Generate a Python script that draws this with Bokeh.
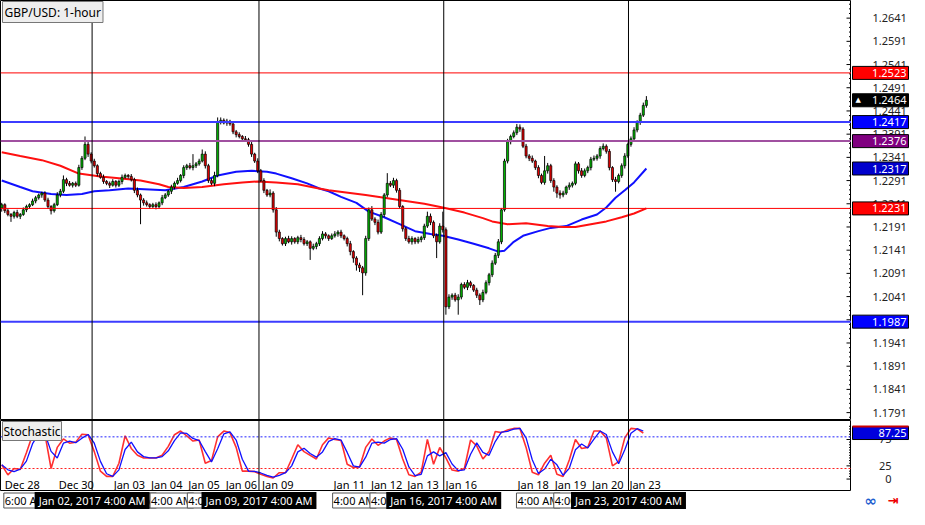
import numpy as np
from bokeh.plotting import figure
from bokeh.models import Range1d, Span, Label, ColumnDataSource
from bokeh.layouts import column, row
from bokeh.embed import file_html
from bokeh.resources import INLINE
from bokeh.core.properties import value

# ---------------- data (2-hour bars, bar index on x) ----------------
first_open = 1.2232
close = [
    1.2239, 1.2226, 1.2218, 1.2214, 1.2222, 1.2214, 1.2218, 1.2228, 1.2235, 1.2239,
    1.2247, 1.2254, 1.2260, 1.2264, 1.2249, 1.2235, 1.2226, 1.2239, 1.2260, 1.2268,
    1.2293, 1.2285, 1.2281, 1.2285, 1.2281, 1.2319, 1.2339, 1.2369, 1.2348, 1.2333,
    1.2323, 1.2306, 1.2298, 1.2289, 1.2285, 1.2281, 1.2289, 1.2281, 1.2289, 1.2298,
    1.2302, 1.2300, 1.2293, 1.2270, 1.2260, 1.2249, 1.2243, 1.2239, 1.2235, 1.2239,
    1.2235, 1.2243, 1.2254, 1.2260, 1.2268, 1.2277, 1.2285, 1.2291, 1.2302, 1.2319,
    1.2323, 1.2319, 1.2323, 1.2327, 1.2333, 1.2348, 1.2323, 1.2291, 1.2285, 1.2302,
    1.2417, 1.2421, 1.2415, 1.2419, 1.2413, 1.2396, 1.2390, 1.2386, 1.2381, 1.2379,
    1.2369, 1.2348, 1.2333, 1.2312, 1.2291, 1.2270, 1.2260, 1.2264, 1.2228, 1.2180,
    1.2166, 1.2155, 1.2166, 1.2159, 1.2166, 1.2159, 1.2168, 1.2164, 1.2155, 1.2159,
    1.2145, 1.2149, 1.2155, 1.2166, 1.2176, 1.2172, 1.2166, 1.2172, 1.2176, 1.2180,
    1.2172, 1.2166, 1.2155, 1.2138, 1.2124, 1.2109, 1.2103, 1.2092, 1.2166, 1.2228,
    1.2208, 1.2201, 1.2180, 1.2218, 1.2260, 1.2285, 1.2281, 1.2291, 1.2270, 1.2235,
    1.2187, 1.2166, 1.2159, 1.2166, 1.2159, 1.2164, 1.2168, 1.2193, 1.2214, 1.2201,
    1.2172, 1.2159, 1.2193, 1.2185, 1.2019, 1.2040, 1.2044, 1.2034, 1.2040, 1.2067,
    1.2061, 1.2071, 1.2065, 1.2055, 1.2044, 1.2034, 1.2050, 1.2071, 1.2088, 1.2113,
    1.2130, 1.2159, 1.2228, 1.2333, 1.2375, 1.2386, 1.2394, 1.2406, 1.2402, 1.2365,
    1.2344, 1.2339, 1.2333, 1.2319, 1.2302, 1.2287, 1.2312, 1.2323, 1.2291, 1.2277,
    1.2264, 1.2260, 1.2264, 1.2277, 1.2281, 1.2285, 1.2327, 1.2312, 1.2302, 1.2312,
    1.2319, 1.2337, 1.2339, 1.2344, 1.2360, 1.2365, 1.2354, 1.2319, 1.2293, 1.2289,
    1.2302, 1.2323, 1.2344, 1.2369, 1.2381, 1.2400, 1.2417, 1.2432, 1.2453, 1.2464,
]
upper_wick_pips = [
    4, 3, 5, 3, 4, 6, 3, 5, 4, 3,   5, 4, 3, 3, 4, 5, 3, 4, 6, 5,
    9, 4, 5, 3, 4, 6, 5, 17, 6, 4,  5, 3, 4, 6, 3, 4, 5, 3, 4, 6,
    4, 3, 5, 4, 6, 3, 4, 5, 3, 4,   5, 3, 6, 4, 3, 5, 4, 6, 3, 5,
    4, 6, 25, 4, 5, 10, 6, 4, 5, 8, 10, 6, 4, 5, 3, 6, 4, 5, 3, 6,
    4, 5, 3, 6, 4, 5, 3, 8, 4, 6,   5, 3, 4, 6, 5, 3, 4, 6, 5, 4,
    3, 6, 4, 5, 6, 4, 3, 5, 6, 4,   5, 3, 4, 6, 3, 4, 5, 4, 6, 5,
    8, 4, 6, 5, 4, 22, 5, 6, 4, 5,  3, 4, 6, 5, 3, 6, 4, 5, 10, 6,
    4, 5, 6, 31, 5, 6, 4, 5, 6, 4,  5, 6, 4, 3, 5, 4, 6, 5, 4, 6,
    5, 6, 4, 5, 6, 4, 5, 7, 6, 4,   5, 4, 6, 3, 5, 4, 32, 6, 4, 5,
    4, 6, 5, 3, 6, 4, 5, 4, 6, 5,   4, 5, 6, 4, 5, 6, 4, 5, 3, 6,
    4, 5, 6, 4, 5, 6, 4, 5, 6, 9,
]
lower_wick_pips = [
    8, 5, 4, 12, 5, 4, 6, 3, 5, 4,  3, 5, 4, 6, 4, 5, 8, 4, 3, 5,
    4, 6, 3, 5, 4, 3, 5, 4, 6, 5,   4, 6, 3, 5, 4, 6, 3, 5, 4, 6,
    3, 5, 4, 6, 5, 52, 6, 4, 5, 3,  6, 4, 5, 3, 4, 6, 5, 3, 4, 6,
    5, 4, 6, 5, 4, 3, 6, 5, 4, 6,   4, 5, 3, 6, 4, 5, 6, 4, 5, 3,
    5, 6, 4, 5, 3, 6, 4, 5, 6, 10,  6, 4, 5, 3, 6, 4, 5, 6, 4, 5,
    25, 4, 6, 5, 4, 6, 5, 3, 4, 6,  5, 4, 6, 8, 10, 12, 9, 48, 6, 5,
    4, 6, 5, 4, 6, 5, 4, 6, 5, 4,   6, 5, 4, 6, 5, 4, 6, 5, 4, 6,
    5, 35, 4, 6, 17, 5, 6, 4, 32, 5, 4, 6, 5, 4, 6, 11, 5, 4, 6, 5,
    4, 6, 5, 4, 5, 6, 4, 5, 6, 4,   5, 6, 4, 5, 6, 4, 5, 6, 5, 10,
    10, 8, 5, 4, 6, 5, 4, 6, 5, 4,  5, 6, 4, 5, 6, 4, 5, 6, 5, 22,
    4, 5, 6, 4, 5, 4, 5, 6, 4, 5,
]

blue_ma_idx = [0, 6, 10, 16, 21, 26, 30, 35, 41, 48, 53, 59, 65, 70, 76, 81, 86, 89, 94, 99,
               103, 106, 110, 115, 119, 124, 129, 134, 139, 143, 148, 153, 158, 161, 163, 166,
               169, 174, 178, 183, 188, 193, 196, 199, 202, 205, 209]
blue_ma = [1.2291, 1.2277, 1.2268, 1.2262, 1.2260, 1.2262, 1.2268, 1.2270, 1.2274, 1.2272,
           1.2270, 1.2277, 1.2289, 1.2302, 1.2310, 1.2312, 1.2310, 1.2306, 1.2296, 1.2285,
           1.2274, 1.2268, 1.2256, 1.2243, 1.2224, 1.2212, 1.2197, 1.2182, 1.2176, 1.2172,
           1.2164, 1.2155, 1.2145, 1.2138, 1.2140, 1.2159, 1.2172, 1.2182, 1.2189, 1.2193,
           1.2207, 1.2218, 1.2233, 1.2254, 1.2270, 1.2287, 1.2317]
red_ma_idx = [0, 6, 13, 19, 25, 32, 38, 45, 51, 54, 59, 65, 72, 78, 83, 89, 96, 102, 106, 111,
              118, 124, 131, 137, 143, 150, 156, 159, 164, 170, 177, 182, 186, 191, 196, 201,
              205, 209]
red_ma = [1.2352, 1.2344, 1.2335, 1.2323, 1.2306, 1.2300, 1.2296, 1.2291, 1.2283, 1.2277,
          1.2275, 1.2277, 1.2283, 1.2287, 1.2289, 1.2287, 1.2283, 1.2275, 1.2270, 1.2266,
          1.2260, 1.2254, 1.2247, 1.2241, 1.2233, 1.2222, 1.2210, 1.2203, 1.2197, 1.2199,
          1.2193, 1.2191, 1.2191, 1.2197, 1.2203, 1.2212, 1.2220, 1.2231]

# stochastic %K sampled every 2 bars
stoch_k = [27, 8, 20, 18, 50, 84, 87, 85, 20, 60,
           76, 68, 70, 85, 84, 52, 15, 5, 5, 30,
           82, 58, 45, 40, 40, 40, 45, 62, 84, 91,
           82, 72, 74, 30, 35, 80, 91, 88, 60, 15,
           15, 14, 9, 5, 2, 12, 12, 38, 65, 52,
           45, 38, 65, 78, 75, 73, 28, 22, 23, 60,
           76, 64, 72, 78, 75, 38, 8, 5, 13, 75,
           28, 60, 40, 17, 15, 20, 74, 63, 38, 52,
           90, 88, 93, 96, 96, 60, 13, 8, 30, 45,
           9, 5, 36, 75, 58, 60, 91, 91, 78, 25,
           33, 78, 96, 95, 87.25]
stoch_levels = [80, 20]

level_prices = [1.2523, 1.2417, 1.2376, 1.2231, 1.1987]
tag_prices = [1.2523, 1.2464, 1.2417, 1.2376, 1.2317, 1.2231, 1.1987]
price_ticks = [1.2641, 1.2591, 1.2541, 1.2491, 1.2441, 1.2391, 1.2341, 1.2291, 1.2241,
               1.2191, 1.2141, 1.2091, 1.2041, 1.1991, 1.1941, 1.1891, 1.1841, 1.1791]
stoch_ticks = [0, 25, 75]

day_labels = ["Dec 28", "Dec 30", "Jan 03", "Jan 04", "Jan 05", "Jan 06", "Jan 09", "Jan 11",
              "Jan 12", "Jan 13", "Jan 16", "Jan 18", "Jan 19", "Jan 20", "Jan 23"]
day_pos = [1, 18.5, 36.3, 48.4, 60.5, 72.6, 84.4, 107.6, 119.7, 131.5, 143.9, 167.2, 179.3, 191.4, 203.5]
time_labels = ["6:00 AM"] + ["4:00 AM"] * 14
week_pos = [29.3, 83.4, 143.3, 203.2]
week_labels = ["Jan 02, 2017 4:00 AM", "Jan 09, 2017 4:00 AM", "Jan 16, 2017 4:00 AM", "Jan 23, 2017 4:00 AM"]

# ---------------- styles ----------------
FONT = "Noto Sans"
BULL = "#00b400"
BEAR = "#e40000"
level_colors = ["#ff0000", "#3c3cff", "#a050a0", "#ff0000", "#3c3cff"]
level_widths = [1, 2, 2, 1, 2]
tag_colors = ["#ff0000", "#000000", "#0000ff", "#800080", "#0000cc", "#ff0000", "#0000ff"]

CW = 851          # chart frame width
SW = 58           # price-scale column width
H_MAIN, H_STO, H_STRIP = 420, 71, 18
X_START, X_END = -0.4, 275.5
BPP = (X_END - X_START) / CW     # bars per pixel
xr = Range1d(X_START, X_END)
P_LO, P_HI = 1.1774, 1.2679
S_LO, S_HI = -23.6, 111
yr_main = Range1d(P_LO, P_HI)
yr_sto = Range1d(S_LO, S_HI)

n = len(close)
idx = np.arange(n)
opens = np.array([first_open] + close[:-1])
closes = np.array(close)
highs = np.maximum(opens, closes) + np.array(upper_wick_pips) * 0.0001
lows = np.minimum(opens, closes) - np.array(lower_wick_pips) * 0.0001
colors = np.where(closes >= opens, BULL, BEAR)
src = ColumnDataSource(dict(x=idx, o=opens, c=closes, h=highs, l=lows, col=colors))


def chart_fig(height, yr, outline=True):
    f = figure(width=CW, height=height, x_range=xr, y_range=yr, output_backend="svg",
               toolbar_location=None, min_border=0, x_axis_location=None,
               y_axis_location=None, background_fill_color="white", border_fill_color="white")
    f.xgrid.visible = False
    f.ygrid.visible = False
    f.outline_line_color = "black" if outline else None
    f.outline_line_width = 1
    return f


def scale_fig(height, yr):
    f = figure(width=SW, height=height, x_range=Range1d(0, SW), y_range=yr, output_backend="svg",
               toolbar_location=None, min_border=0, x_axis_location=None,
               y_axis_location=None, background_fill_color="white", border_fill_color="white")
    f.xgrid.visible = False
    f.ygrid.visible = False
    f.outline_line_color = None
    return f


def add_ticks(f, majors, minors, major_len=5, minor_len=2.5):
    f.segment(x0=[X_END - major_len * BPP] * len(majors), y0=majors,
              x1=[X_END] * len(majors), y1=majors, line_color="black", line_width=1)
    f.segment(x0=[X_END - minor_len * BPP] * len(minors), y0=minors,
              x1=[X_END] * len(minors), y1=minors, line_color="black", line_width=1)


# ---------------- main price panel ----------------
p = chart_fig(H_MAIN, yr_main)
for lv, lc, lw in zip(level_prices, level_colors, level_widths):
    p.add_layout(Span(location=lv, dimension="width", line_color=lc, line_width=lw))
for wp in week_pos:
    p.add_layout(Span(location=wp, dimension="height", line_color="black", line_width=1))

p.line(blue_ma_idx, blue_ma, line_color="#1010ff", line_width=2)
p.line(red_ma_idx, red_ma, line_color="#ff1010", line_width=2)

p.segment(x0="x", y0="l", x1="x", y1="h", source=src, line_color="black", line_width=1)
p.vbar(x="x", width=0.68, top="o", bottom="c", source=src, fill_color="col",
       line_color="black", line_width=0.7)

price_minor = [round(v, 4) for v in np.arange(1.1781, 1.2680, 0.001) if min(abs(v - t) for t in price_ticks) > 1e-6]
add_ticks(p, price_ticks, price_minor)

p.add_layout(Label(x=X_START, y=P_HI, text="GBP/USD: 1-hour", x_offset=2, y_offset=-1,
                   text_baseline="top", text_font=FONT, text_font_size="12px",
                   text_color="black", background_fill_color="#eeeeee",
                   border_line_color="#777777", padding=2))

# price scale column
ps = scale_fig(H_MAIN, yr_main)
ps.text(x=[21] * len(price_ticks), y=price_ticks, text=[f"{v:.4f}" for v in price_ticks],
        text_font=value(FONT), text_font_size="11px", text_align="left",
        text_baseline="middle", text_color="#222222")
ps.rect(x=[29] * len(tag_prices), y=tag_prices, width=56, height=13, height_units="screen",
        fill_color=tag_colors, line_color="black", line_width=1)
ps.text(x=[55] * len(tag_prices), y=tag_prices, text=[f"{v:.4f}" for v in tag_prices],
        text_font=value(FONT), text_font_size="11px", text_align="right",
        text_baseline="middle", text_color="white")
ps.text(x=[4], y=[tag_prices[1]], text=["▲"], text_font=value("DejaVu Sans"),
        text_font_size="7px", text_align="left", text_baseline="middle", text_color="white")

# ---------------- stochastic panel ----------------
s = chart_fig(H_STO, yr_sto)
s.add_layout(Span(location=stoch_levels[0], dimension="width", line_color="#2020ff",
                  line_width=1, line_dash="2 2"))
s.add_layout(Span(location=stoch_levels[1], dimension="width", line_color="#ff2020",
                  line_width=1, line_dash="2 2"))
for wp in week_pos:
    s.add_layout(Span(location=wp, dimension="height", line_color="black", line_width=1))

k_x = np.arange(len(stoch_k)) * 2
k_arr = np.array(stoch_k, dtype=float)
d_arr = np.convolve(np.r_[k_arr[0], k_arr], [0.5, 0.5], mode="valid")
s.line(k_x, k_arr, line_color="#ff3030", line_width=1.6)
s.line(k_x, d_arr, line_color="#1010ff", line_width=1.3)

s.text(x=day_pos, y=[-10.5] * len(day_pos), text=day_labels, text_font=value(FONT),
       text_font_size="11px", text_baseline="middle", text_align="left", text_color="black")
add_ticks(s, stoch_ticks, [v for v in range(5, 101, 5) if v not in stoch_ticks], 5, 2.5)

s.add_layout(Label(x=X_START, y=S_HI, text="Stochastic", x_offset=2, y_offset=-1,
                   text_baseline="top", text_font=FONT, text_font_size="12px",
                   text_color="black", background_fill_color="#eeeeee",
                   border_line_color="#777777", padding=1))

ss = scale_fig(H_STO, yr_sto)
ss.text(x=[40] * len(stoch_ticks), y=stoch_ticks, text=[str(v) for v in stoch_ticks],
        text_font=value(FONT), text_font_size="11px", text_align="right",
        text_baseline="middle", text_color="#222222")
ss.rect(x=[29], y=[stoch_k[-1]], width=56, height=13, height_units="screen",
        fill_color="#0000dd", line_color="black", line_width=1)
ss.rect(x=[29], y=[stoch_k[-1] + 6.5 * (S_HI - S_LO) / H_STO], width=56, height=2,
        height_units="screen", fill_color="#cc0000", line_color=None)
ss.text(x=[55], y=[stoch_k[-1]], text=[f"{stoch_k[-1]:.2f}"], text_font=value(FONT),
        text_font_size="11px", text_align="right", text_baseline="middle", text_color="white")

# ---------------- time strip ----------------
t = chart_fig(H_STRIP, Range1d(0, 1), outline=False)
for dp, tl in zip(day_pos, time_labels):
    t.add_layout(Label(x=dp, y=0.5, text=tl, x_offset=-1, text_align="left",
                       text_baseline="middle", text_font=FONT, text_font_size="11px",
                       text_color="black", background_fill_color="white",
                       border_line_color="#555555", padding=dict(left=1, right=1, top=0, bottom=0)))
for wp, wl in zip(week_pos, week_labels):
    t.add_layout(Label(x=wp, y=0.5, text=wl, text_align="center", text_baseline="middle",
                       text_font=FONT, text_font_size="11px", text_color="white",
                       background_fill_color="black", padding=dict(left=4, right=4, top=1, bottom=1)))

ts = scale_fig(H_STRIP, Range1d(0, 1))
ts.text(x=[13], y=[0.5], text=["∞"], text_font=value("DejaVu Sans"), text_font_size="15px",
        text_font_style="bold", text_color="#1f5fd0", text_align="left", text_baseline="middle")
ts.text(x=[36], y=[0.5], text=["⇥"], text_font=value("DejaVu Sans"), text_font_size="13px",
        text_font_style="bold", text_color="#ee0000", text_align="left", text_baseline="middle")

layout = column(row(p, ps, spacing=0), row(s, ss, spacing=0), row(t, ts, spacing=0), spacing=0)
open("out.html", "w").write(file_html(layout, INLINE))
